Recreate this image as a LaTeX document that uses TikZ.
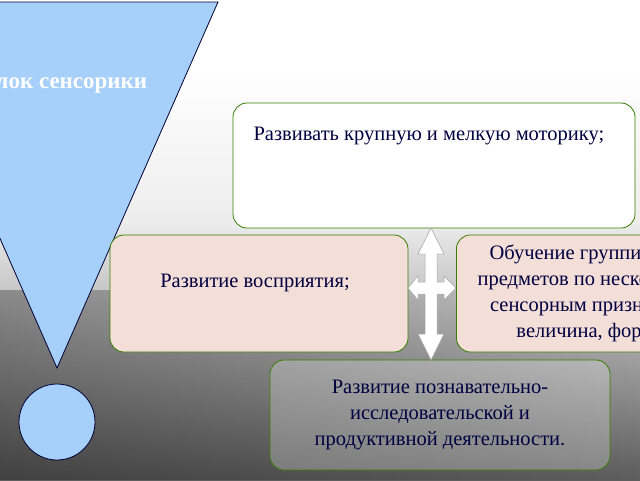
\documentclass[tikz,border=0pt]{standalone}
\usepackage{fontspec}
\setmainfont{Liberation Serif}
\usetikzlibrary{fadings}
\pgfdeclareverticalshading{bg}{100bp}{color(0bp)=(black!95); color(22bp)=(black!70); color(42bp)=(black!28); color(52bp)=(white!93!black); color(68bp)=(white); color(100bp)=(white)}
\definecolor{pinkbox}{RGB}{243,222,216}
\definecolor{tri}{RGB}{166,207,250}
\begin{document}
\begin{tikzpicture}[x=1pt,y=-1pt,
  box/.style={draw=green!40!olive!70!black, line width=0.8pt, rounded corners=14pt},
  txt/.style={text=blue!25!black, font=\fontsize{20.5}{26}\selectfont, align=center},
  arr/.style={fill=white, draw=gray!70, line width=0.5pt}]
\useasboundingbox (0,0) rectangle (640,480);
\clip (0,0) rectangle (640,480);
\shade[shading=bg] (0,0) rectangle (640,480);
\fill[black, path fading=east, opacity=0.3] (0,290) rectangle (640,480);
% triangle and circle
\draw[fill=tri, draw=blue!20!black, line width=0.8pt] (-104,2) -- (218,2) -- (57,368) -- cycle;
\node[draw=blue!20!black, fill=tri, line width=0.8pt, circle, minimum size=76pt, inner sep=0pt] (c) at (57,422) {};
\node[text=white, font=\bfseries\fontsize{23}{26}\selectfont] (t) at (64,83) {Блок сенсорики};
% boxes
\node[box, fill=white, minimum width=402pt, minimum height=125pt] (top) at (434,165.5) {};
\node[txt, anchor=west] (toptxt) at (250,136) {Развивать крупную и мелкую моторику;};
\node[box, fill=pinkbox, minimum width=298pt, minimum height=117pt] (left) at (259,293.5) {};
\node[txt] at (255,283) {Развитие восприятия;};
\node[box, fill=pinkbox, minimum width=260pt, minimum height=117pt, anchor=west] (right) at (456,293.5) {};
\node[txt, anchor=west] at (474,293) {Обучение группировке\\предметов по нескольким\\сенсорным признакам:\\величина, форма};
\node[box, fill=white, fill opacity=0.25, minimum width=340pt, minimum height=110pt] (bot) at (440,415) {};
\node[txt] at (bot) {Развитие познавательно-\\исследовательской и\\продуктивной деятельности.};
% arrows
\draw[arr] (431,228) -- (444,254) -- (437,254) -- (437,282) -- (444,282) -- (444,276) -- (456,288) -- (444,300) -- (444,294) -- (437,294) -- (437,334) -- (444,334) -- (431,360) -- (418,334) -- (425,334) -- (425,294) -- (418,294) -- (418,300) -- (408,288) -- (418,276) -- (418,282) -- (425,282) -- (425,254) -- (418,254) -- cycle;
\end{tikzpicture}
\end{document}
